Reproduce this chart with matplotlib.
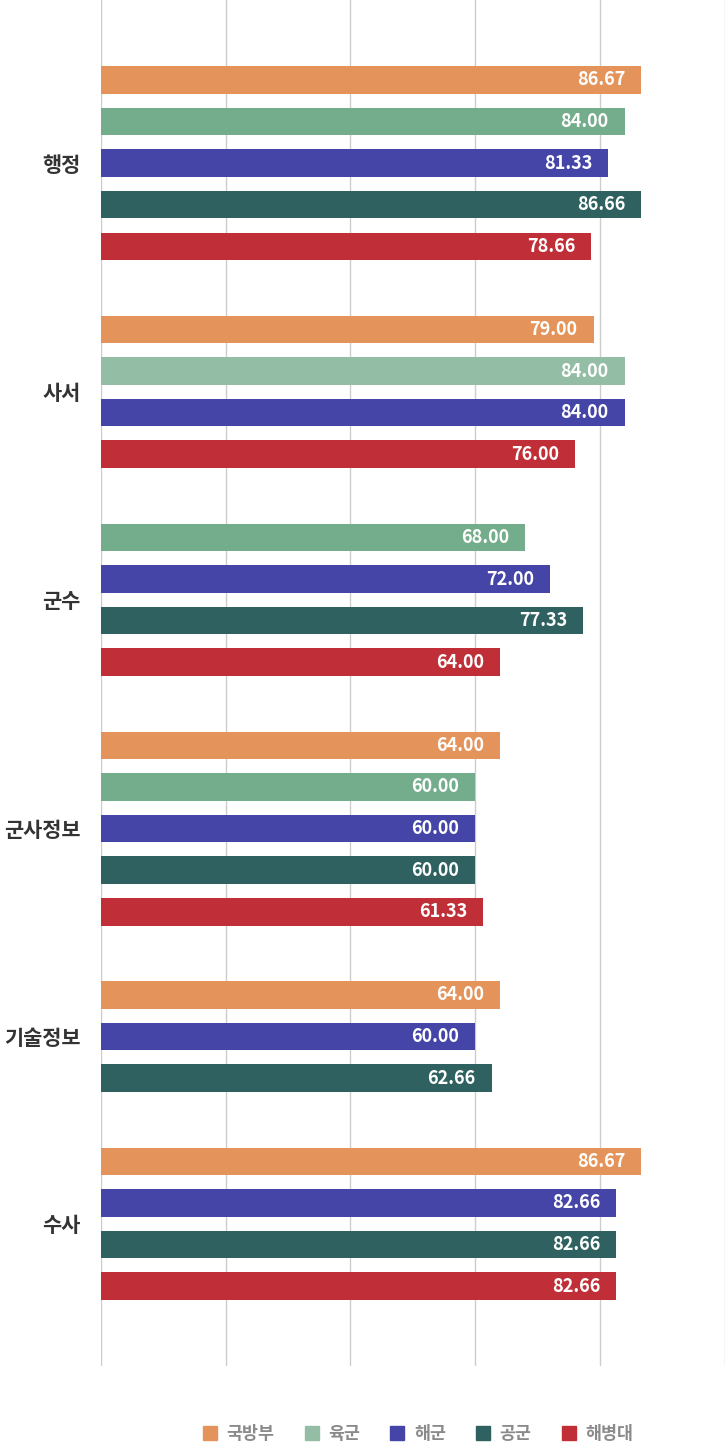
import matplotlib
matplotlib.use("Agg")
import matplotlib.pyplot as plt
from matplotlib.lines import Line2D

plt.rcParams['font.family'] = ['Noto Sans CJK KR', 'DejaVu Sans']

categories = ['행정', '사서', '군수', '군사정보', '기술정보', '수사']
series = ['국방부', '육군', '해군', '공군', '해병대']

# None = no bar in that group
mnd = [86.67, 79.00, None, 64.00, 64.00, 86.67]
army = [84.00, 84.00, 68.00, 60.00, None, None]
navy = [81.33, 84.00, 72.00, 60.00, 60.00, 82.66]
airforce = [86.66, None, 77.33, 60.00, 62.66, 82.66]
marines = [78.66, 76.00, 64.00, 61.33, None, 82.66]

values = [mnd, army, navy, airforce, marines]
colors = ['#E4945A', '#74AD8B', '#4545A8', '#2F6161', '#C02F37']
legend_colors = ['#E4945A', '#93BDA5', '#4545A8', '#2F6161', '#C02F37']
# the 육군 bar in 사서 is drawn in the lighter (hover) tint
highlight = {(1, 1): '#93BDA5'}

fig = plt.figure(figsize=(7.26, 14.45), dpi=100)
ax = fig.add_axes([101 / 726, 1 - 1366 / 1445, 623.5 / 726, 1366 / 1445])

# one slot per bar, one empty slot between groups
slot = 0
label_pos = []
for ci, cat in enumerate(categories):
    used = []
    for si in range(len(series)):
        v = values[si][ci]
        if v is None:
            continue
        c = highlight.get((si, ci), colors[si])
        ax.barh(slot, v, height=0.66, color=c, zorder=2)
        ax.annotate(f"{v:.2f}", (v, slot), xytext=(-16, 0), textcoords='offset pixels',
                    ha='right', va='center', color='white', fontsize=13,
                    fontweight='bold', zorder=3)
        used.append(slot)
        slot += 1
    label_pos.append(sum(used) / len(used))
    slot += 1
last = slot - 2

ax.set_xlim(0, 100)
ax.set_ylim(last + 1.92, -1.92)
ax.set_xticks(range(0, 101, 20))
ax.set_xticklabels([])
ax.set_yticks(label_pos)
ax.set_yticklabels(categories, fontsize=15, fontweight='bold', color='#333333')
ax.tick_params(axis='both', length=0)
ax.tick_params(axis='y', pad=14.5)
ax.grid(axis='x', color='#cccccc', linewidth=1, zorder=0)
for s in ax.spines.values():
    s.set_visible(False)

handles = [Line2D([], [], marker='s', linestyle='', markersize=9.5, color=c)
           for c in legend_colors]
leg = fig.legend(handles, series, loc='center', bbox_to_anchor=(0.576, 0.0076),
                 ncol=5, frameon=False, handlelength=0.8, handletextpad=0.55,
                 columnspacing=1.75, prop={'size': 12.5, 'weight': 'bold'})
for t in leg.get_texts():
    t.set_color('#8a8a8a')

fig.savefig('out.png', dpi=100)
